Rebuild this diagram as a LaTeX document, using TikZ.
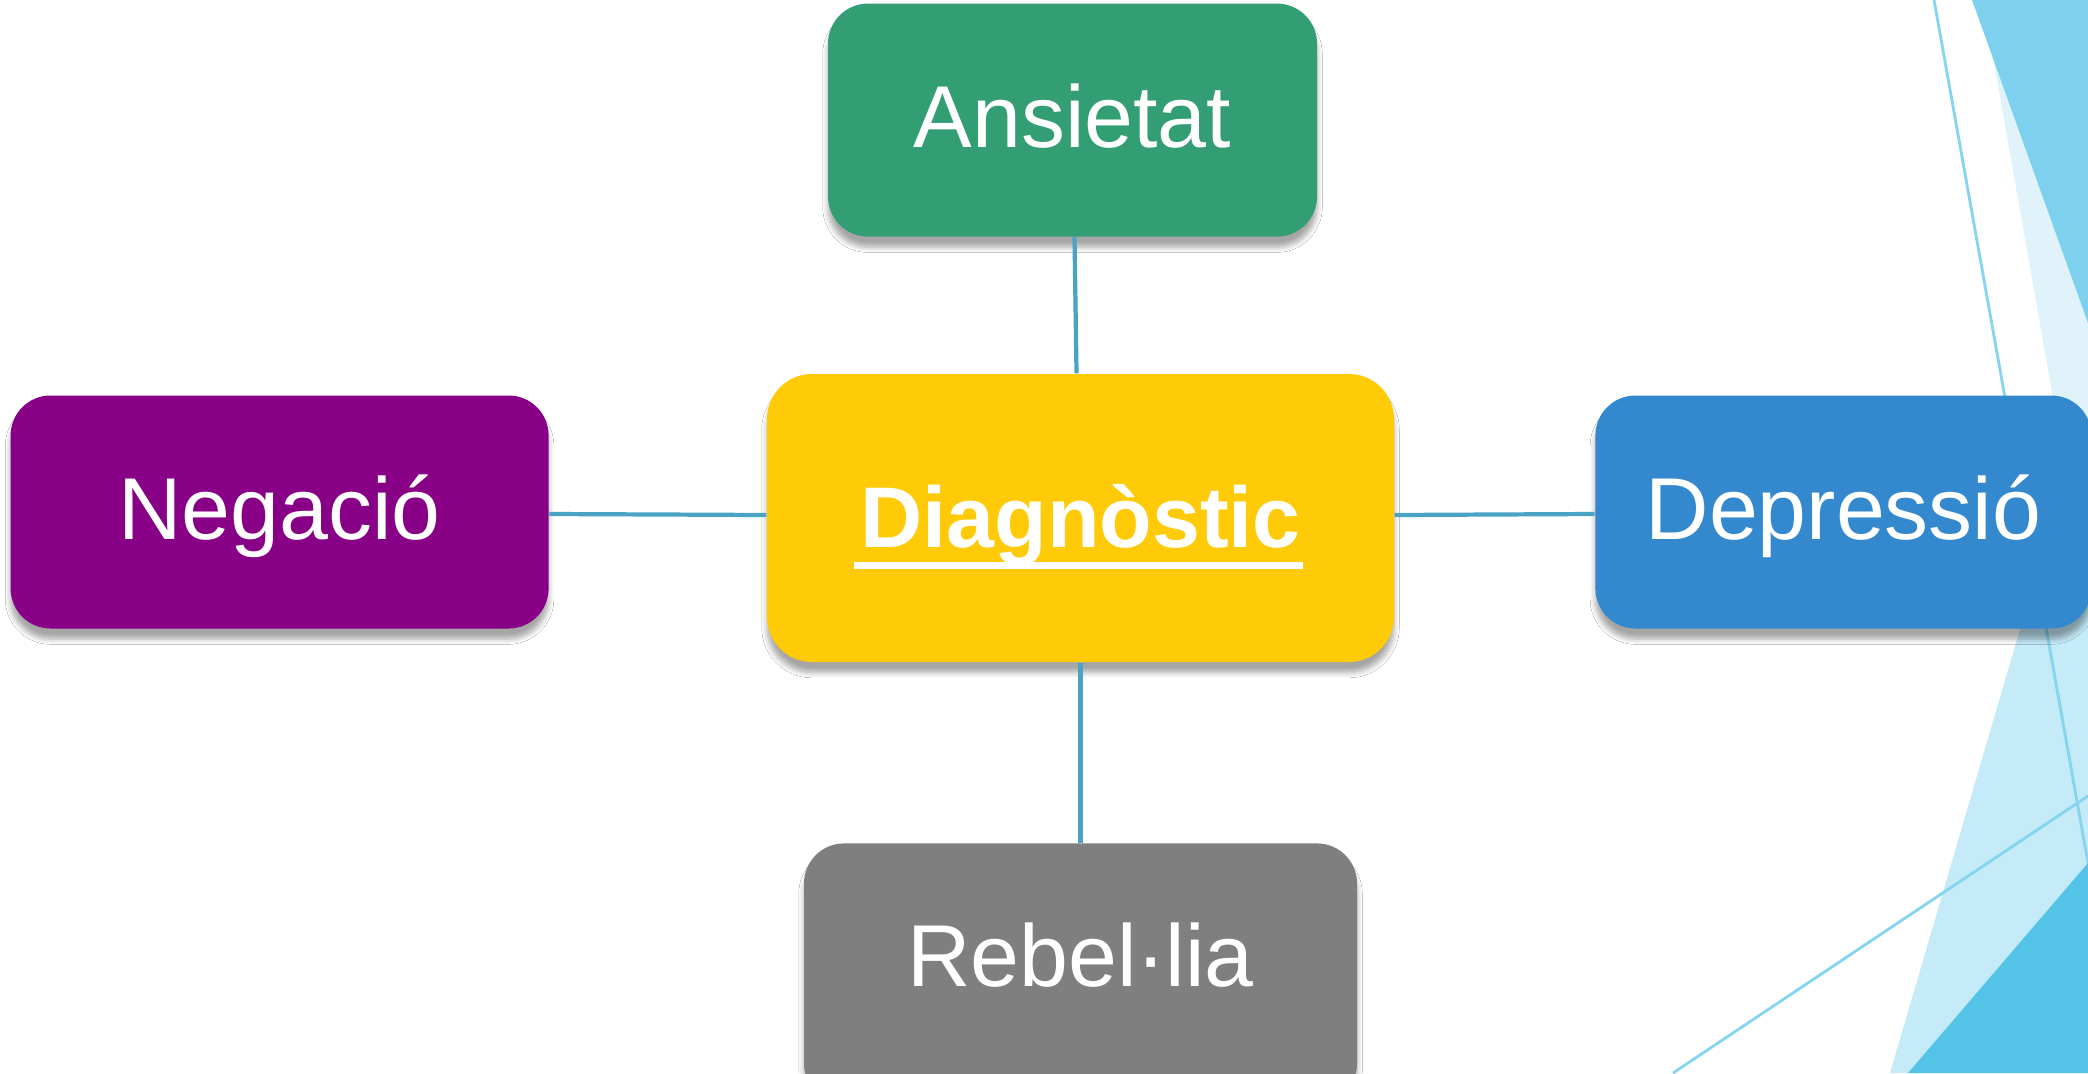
\documentclass[tikz,border=0pt]{standalone}
\usepackage{fontspec}
\setmainfont{Liberation Sans}
\usetikzlibrary{positioning,shadows.blur}
\definecolor{ansgreen}{RGB}{51,157,115}
\definecolor{diagyellow}{RGB}{255,202,8}
\definecolor{negpurple}{RGB}{135,0,133}
\definecolor{depblue}{RGB}{52,137,206}
\definecolor{rebgray}{RGB}{127,127,127}
\definecolor{linkblue}{RGB}{75,163,195}
\definecolor{facetpale}{RGB}{224,243,250}
\definecolor{facetlight}{RGB}{197,234,248}
\definecolor{facetmid}{RGB}{125,208,238}
\definecolor{facetdark}{RGB}{84,195,232}
\definecolor{facetline}{RGB}{133,212,240}
\newcommand\thickul[1]{\setbox0\hbox{#1}%
  \makebox[0pt][l]{\hspace{-0.06cm}\rule[-0.215cm]{\dimexpr\wd0+0.08cm\relax}{0.07cm}}\box0}
\tikzset{
  card/.style={rounded corners=0.4cm, minimum height=2.33cm, inner sep=0pt,
    text=white, font=\fontsize{25}{30}\selectfont,
    text height=0.8cm, text depth=0.25cm,
    blur shadow={shadow xshift=0pt, shadow yshift=-3pt, shadow blur steps=6,
      shadow blur radius=1.5pt, shadow opacity=35}},
  hub/.style={card, fill=diagyellow, rounded corners=0.45cm, minimum width=6.27cm,
    minimum height=2.88cm, font=\fontsize{24.5}{30}\selectfont\bfseries,
    text height=0.83cm, text depth=0.25cm},
  link/.style={draw=linkblue, line width=1.2pt},
  facetrule/.style={draw=facetline, line width=0.8pt}
}

\begin{document}
\begin{tikzpicture}

  \useasboundingbox[fill=white] (0,0) rectangle (20.88,10.73);

  % Facet decoration on the right edge
  \fill[facetpale] (19.83,10.73) -- (20.88,10.73) -- (20.88,5.73) -- (20.66,6.01) -- cycle;
  \fill[facetmid] (19.72,10.73) -- (20.88,10.73) -- (20.88,7.50) -- cycle;
  \fill[facetlight] (20.66,6.01) -- (20.88,6.50) -- (20.88,0) -- (18.90,0) -- cycle;
  \fill[facetdark] (20.88,2.10) -- (20.88,0) -- (19.08,0) -- cycle;
  \draw[facetrule] (19.34,10.73) -- (20.88,2.10);
  \draw[facetrule] (16.73,0) -- (20.88,2.77);

  % hub and the four cards round it
  \node[hub] (diag) at (10.805,5.55) {\thickul{Diagnòstic}};
  \node[card, fill=ansgreen, minimum width=4.89cm, above=1.36cm of diag, xshift=-0.08cm] (ans) {Ansietat};
  \node[card, fill=negpurple, minimum width=5.38cm, left=2.17cm of diag, yshift=0.06cm] (neg) {Negació};
  \node[card, fill=depblue, minimum width=4.96cm, right=2.0cm of diag, yshift=0.06cm] (dep) {Depressió};
  \node[card, fill=rebgray, minimum width=5.53cm, minimum height=2.6cm, text depth=0.54cm,
    below=1.80cm of diag] (reb) {Rebel·lia};

  \draw[link] ([xshift=0.02cm]ans.south) -- ([xshift=-0.04cm]diag.north);
  \draw[link] ([yshift=-0.02cm]neg.east) -- ([yshift=0.03cm]diag.west);
  \draw[link] ([yshift=0.03cm]diag.east) -- ([yshift=-0.02cm]dep.west);
  \draw[link] (diag.south) -- (reb.north);

\end{tikzpicture}
\end{document}
